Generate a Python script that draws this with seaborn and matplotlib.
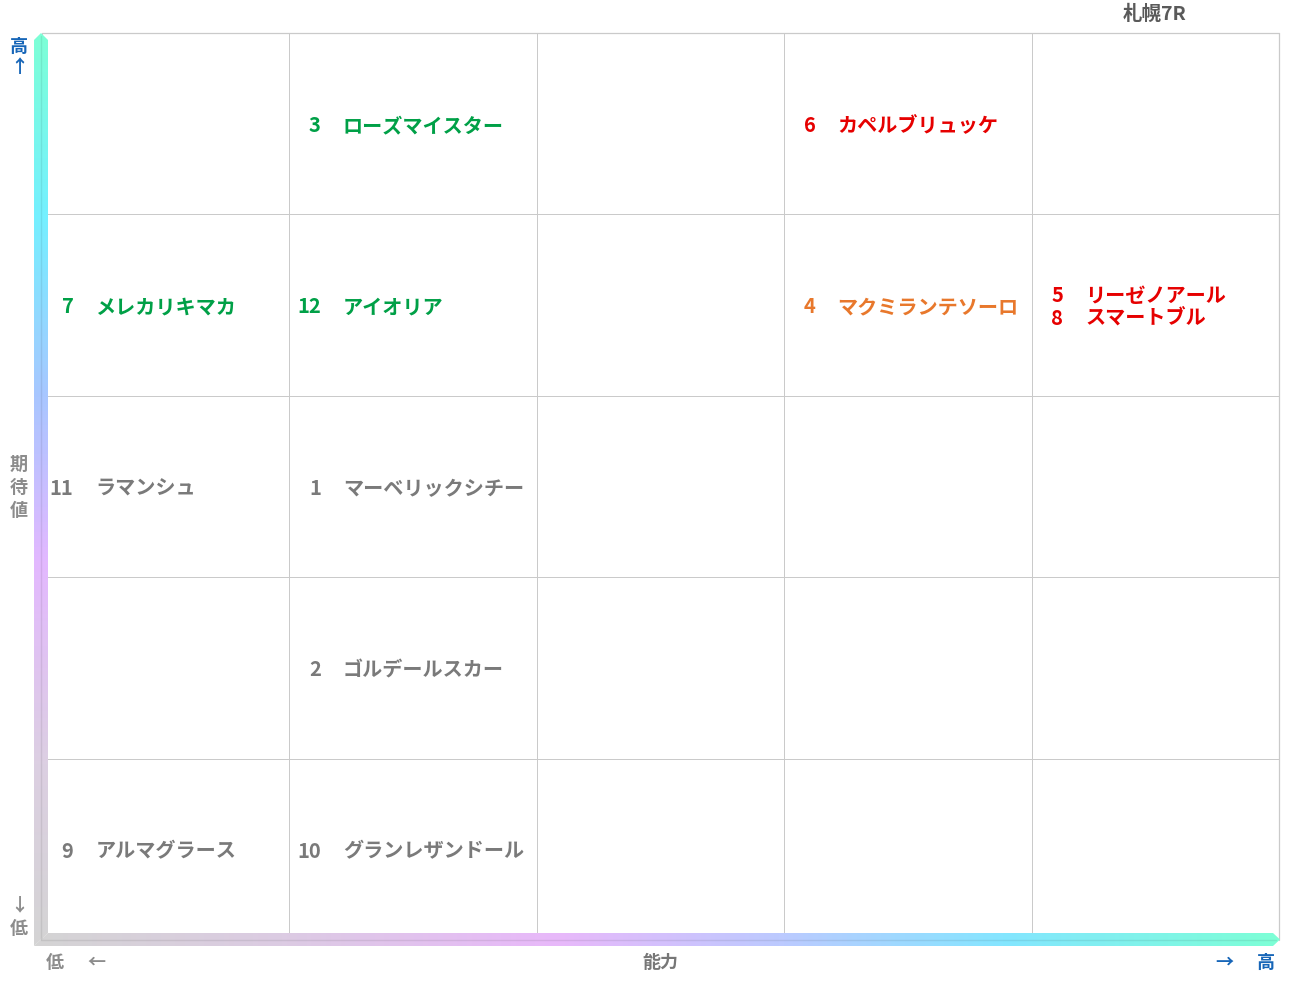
import numpy as np
import pandas as pd
import matplotlib
matplotlib.use("Agg")
import matplotlib.pyplot as plt
import seaborn as sns
from matplotlib.colors import LinearSegmentedColormap
from matplotlib.path import Path
from matplotlib.patches import PathPatch

# horses: number, name, ability column (0=low .. 4=high), expectation row (0=low .. 4=high)
horse_nums = [3, 6, 7, 12, 4, 5, 8, 11, 1, 2, 9, 10]
horse_names = ["ローズマイスター", "カペルブリュッケ", "メレカリキマカ", "アイオリア",
               "マクミランテソーロ", "リーゼノアール", "スマートブル", "ラマンシュ",
               "マーベリックシチー", "ゴルデールスカー", "アルマグラース", "グランレザンドール"]
ability = [1, 3, 0, 1, 3, 4, 4, 0, 1, 1, 0, 1]
expect = [4, 4, 3, 3, 3, 3, 3, 2, 2, 1, 0, 0]
tier = ["green", "red", "green", "green", "orange", "red", "red",
        "gray", "gray", "gray", "gray", "gray"]

title = "札幌7R"
n_cols, n_rows = 5, 5

tier_colors = {"green": "#00a047", "red": "#e60000", "orange": "#e8782c", "gray": "#7a7a7a"}
blue = "#1766b8"
label_gray = "#8c8c8c"
grid_color = "#cacaca"

sns.set_theme(style="white")
plt.rcParams['font.family'] = ['Noto Sans CJK JP', 'DejaVu Sans']

W, H = 1291, 983
fig = plt.figure(figsize=(W / 100, H / 100), dpi=100)
ax = fig.add_axes([42 / W, 1 - 940 / H, (1279 - 42) / W, (940 - 33) / H])

grid = pd.DataFrame(np.zeros((n_rows, n_cols)))
sns.heatmap(grid, ax=ax, cmap=LinearSegmentedColormap.from_list("w", ["white", "white"]),
            cbar=False, linewidths=0.7, linecolor=grid_color, xticklabels=False, yticklabels=False)
ax.set_xlim(0, n_cols)
ax.set_ylim(n_rows, 0)
# outer border on the right and top
ax.plot([n_cols, n_cols], [0, n_rows], color=grid_color, lw=0.9, clip_on=False)
ax.plot([0, n_cols], [0, 0], color=grid_color, lw=0.9, clip_on=False)

df = pd.DataFrame({"num": horse_nums, "name": horse_names, "x": ability,
                   "y": expect, "tier": tier})
line_gap = 23 / ((940 - 33) / n_rows)
for (cx, cy), grp in df.groupby(["x", "y"], sort=False):
    k = len(grp)
    row = n_rows - 1 - cy
    for i, r in enumerate(grp.itertuples()):
        yy = row + 0.51 + (i - (k - 1) / 2) * line_gap
        c = tier_colors[r.tier]
        ax.text(cx + 0.127, yy, str(r.num), ha="right", va="center", fontsize=14.5,
                fontweight="bold", color=c)
        ax.text(cx + 0.216, yy, r.name, ha="left", va="center", fontsize=14.5,
                fontweight="bold", color=c)

# overlay in pixel space for the gradient axis bars and axis words
ov = fig.add_axes([0, 0, 1, 1], zorder=5)
ov.set_xlim(0, W)
ov.set_ylim(H, 0)
ov.axis("off")
ov.patch.set_alpha(0)

vcmap = LinearSegmentedColormap.from_list("v", [
    (0.0, "#7dffd6"), (0.2, "#74f0ff"), (0.4, "#a9c6ff"),
    (0.58, "#e3b8ff"), (0.8, "#dccfe2"), (1.0, "#d4d4d4")])
hcmap = LinearSegmentedColormap.from_list("h", [
    (0.0, "#d4d4d4"), (0.2, "#dccbe3"), (0.42, "#e8b8fa"),
    (0.6, "#bccaff"), (0.78, "#84e6ff"), (1.0, "#7dffd6")])

grad = np.linspace(0, 1, 256)
vimg = ov.imshow(grad[:, None], cmap=vcmap, aspect="auto",
                 extent=[34, 48, 946, 33], zorder=6)
vpath = Path([(34, 40), (41, 33), (48, 40), (48, 933), (34, 946), (34, 40)])
vpatch = PathPatch(vpath, transform=ov.transData, facecolor="none", edgecolor="none")
ov.add_patch(vpatch)
vimg.set_clip_path(vpatch)

himg = ov.imshow(grad[None, :], cmap=hcmap, aspect="auto",
                 extent=[34, 1280, 946, 933], zorder=6)
hpath = Path([(34, 946), (48, 933), (1273, 933), (1280, 939.5), (1273, 946), (34, 946)])
hpatch = PathPatch(hpath, transform=ov.transData, facecolor="none", edgecolor="none")
ov.add_patch(hpatch)
himg.set_clip_path(hpatch)

# bevel lines down the middle of each bar
ov.plot([41, 41], [36, 939], color="black", alpha=0.08, lw=1, zorder=7)
ov.plot([41, 1276], [939.5, 939.5], color="black", alpha=0.08, lw=1, zorder=7)

# axis words
kw = dict(ha="center", va="center", fontsize=13, fontweight="bold")
ov.text(19, 46, "高", color=blue, **kw)
ov.text(19, 67, "↑", color=blue, **kw)
for t, yy in zip("期待値", [464, 487, 510]):
    ov.text(19, yy, t, color=label_gray, **kw)
ov.text(19, 905, "↓", color=label_gray, **kw)
ov.text(19, 928, "低", color=label_gray, **kw)
ov.text(55, 962, "低", color=label_gray, **kw)
ov.text(96, 962, "←", color=label_gray, **kw)
ov.text(660, 962, "能力", color="#777777", **kw)
ov.text(1224, 962, "→", color=blue, **kw)
ov.text(1266, 962, "高", color=blue, **kw)
ov.text(1155, 14, title, ha="center", va="center", fontsize=14, fontweight="bold",
        color="#5a5a5a")

fig.savefig("out.png", dpi=100)
